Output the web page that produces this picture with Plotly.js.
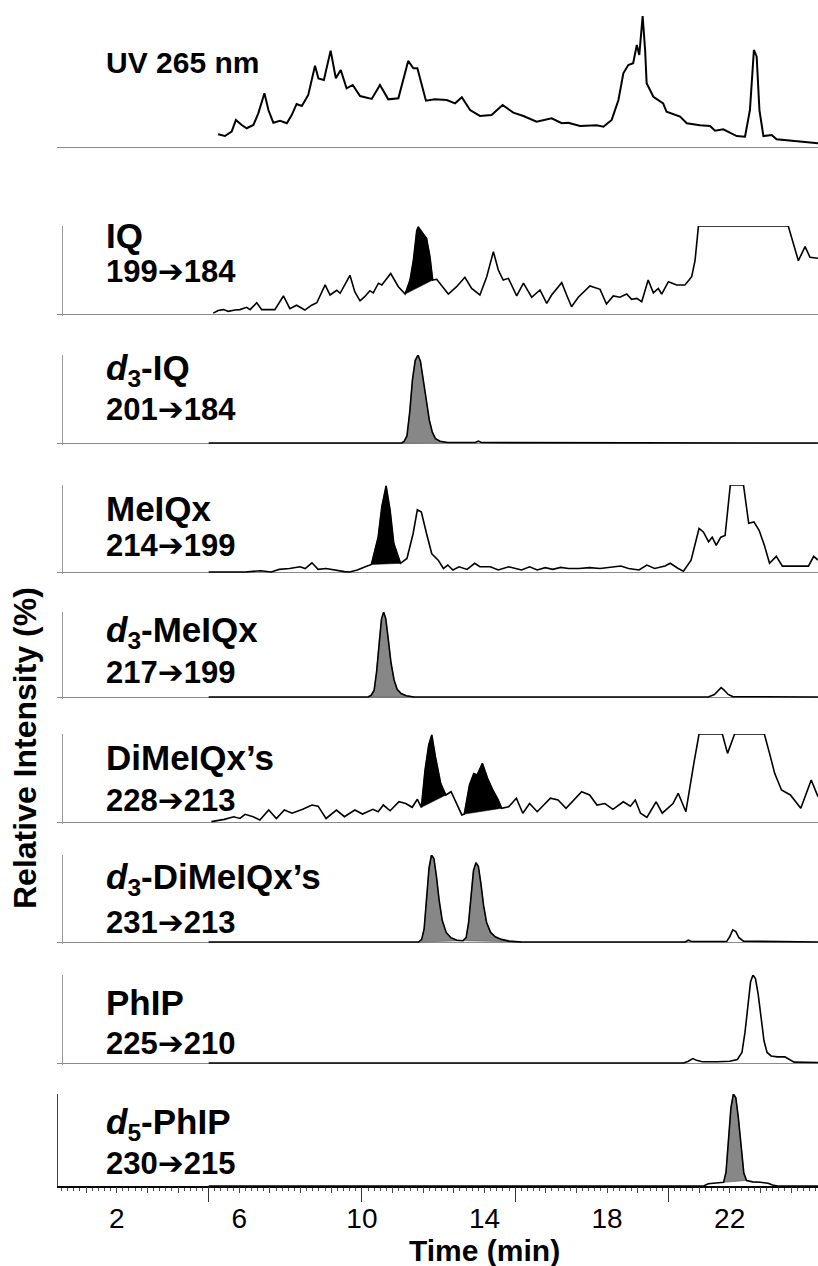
<!DOCTYPE html>
<html>
<head>
<meta charset="utf-8">
<script src="https://cdn.plot.ly/plotly-3.0.1.min.js"></script>
<style>
html,body{margin:0;padding:0;background:#fff;}
#chart{width:818px;height:1266px;}
</style>
</head>
<body>
<div id="chart"></div>
<script>
// ---------------- DATA (time in min, relative intensity in %) ----------------
const tickLabels = [2, 6, 10, 14, 18, 22];

const uvPoints = [[5.31,9.6],[5.53,8.3],[5.75,11.6],[5.89,20.5],[6.08,16.7],[6.24,14.2],[6.46,16.7],[6.62,25.5],[6.82,40.7],[6.95,28],[7.11,18.4],[7.33,19.9],[7.55,18],[7.71,24.2],[7.87,32.6],[8.04,31.1],[8.25,39.4],[8.47,61.6],[8.58,52],[8.76,50.8],[8.98,73],[9.15,52],[9.31,58.3],[9.5,44.5],[9.7,47],[9.94,38.6],[10.32,36.4],[10.59,47],[10.86,36.1],[11.19,36.9],[11.51,65.2],[11.68,59.6],[11.81,59.6],[12.09,35.1],[12.38,36.1],[12.77,35.6],[13.04,33.1],[13.26,37.7],[13.53,28],[13.85,23.5],[14.23,24.2],[14.59,31.8],[14.94,26],[15.27,23.5],[15.7,19.2],[16.19,21.7],[16.52,18],[16.73,18.4],[17.12,15.9],[17.66,16.4],[17.88,15.4],[18.15,20.5],[18.37,35.6],[18.53,55.8],[18.69,62.1],[18.85,63.4],[18.97,77.3],[19.05,69.7],[19.16,99.2],[19.24,73.5],[19.29,48.3],[19.51,38.1],[19.83,33.1],[19.94,26.7],[20.38,23],[20.6,18],[21.03,16.4],[21.36,15.9],[21.52,12.3],[21.79,13.4],[22.23,8.3],[22.5,7.8],[22.66,28],[22.79,73.5],[22.88,68.4],[22.97,28],[23.1,8.3],[23.37,9.1],[23.53,5.8],[24.08,4.8],[24.88,2.8]];

const iqPoints = [[5.15,1],[5.31,4],[5.48,5],[5.64,3],[5.86,4.5],[6.02,5],[6.24,7.6],[6.35,5],[6.57,12.8],[6.73,5],[7.16,5],[7.44,20.5],[7.65,6],[7.87,10],[8.14,4.5],[8.36,10],[8.53,12.8],[8.8,33],[8.96,21.6],[9.18,27],[9.29,23.5],[9.61,44],[9.77,25],[9.94,15],[10.1,20],[10.26,26.5],[10.37,24],[10.54,35],[10.65,33],[10.94,46],[11.19,31],[11.41,22.7],[11.57,38.6],[11.68,61],[11.79,95],[11.84,99],[11.96,93],[12.11,86],[12.22,65],[12.31,38.6],[12.44,39.4],[12.82,22.7],[13.09,31],[13.36,41.7],[13.58,29],[13.85,21.6],[14.07,42],[14.29,70.8],[14.45,50],[14.61,38.6],[14.78,40.5],[15.05,20.5],[15.27,35],[15.54,19],[15.81,27.3],[16.03,12],[16.19,21.6],[16.52,35.6],[16.68,21.6],[16.84,8.3],[17.06,19],[17.44,31.8],[17.77,28],[17.98,11.4],[18.2,20.5],[18.42,19],[18.64,22.7],[18.8,16.7],[18.97,17.8],[19.13,14],[19.34,38.6],[19.51,24],[19.67,29],[19.78,22.7],[20.0,36.7],[20.27,33],[20.54,33],[20.76,42.4],[20.87,61],[20.98,100],[23.91,100],[24.08,80],[24.24,60.6],[24.46,76.5],[24.62,64.4],[24.88,63.3]];

const d3iqPoints = [[5.0,0],[11.3,0],[11.38,2],[11.47,8],[11.56,35],[11.65,72],[11.74,94],[11.83,100],[11.91,93],[12.0,72],[12.1,48],[12.2,26],[12.3,12],[12.4,5],[12.55,2],[12.8,0.5],[13.7,0.5],[13.8,2],[13.9,0.5],[24.88,0]];

const meiqxPoints = [[5.0,0],[6.19,0],[6.7,1.5],[7.04,0],[7.3,3],[7.64,4],[7.98,6],[8.15,4],[8.37,10.6],[8.57,3],[8.83,4],[9.09,2.3],[9.43,0.4],[9.6,0],[9.85,2.3],[10.11,6],[10.31,8.7],[10.53,40],[10.65,75],[10.79,99],[10.92,71],[11.04,33],[11.26,10],[11.47,15.6],[11.67,44],[11.81,71.6],[11.94,69],[12.11,44],[12.28,21],[12.49,13.6],[12.66,4],[12.8,8],[12.97,2.3],[13.17,6],[13.43,3],[13.68,10],[13.85,6],[14.19,6],[14.45,2.3],[14.79,6],[15.21,2.3],[15.47,6],[15.72,2.3],[15.98,5],[16.23,3],[16.49,5.3],[16.74,4],[17.08,4],[17.43,5],[17.77,4],[18.1,5.3],[18.45,6.8],[18.7,4],[19.04,2.3],[19.3,8],[19.55,4],[19.89,6.8],[20.06,10],[20.32,4],[20.49,1],[20.74,13.6],[21.0,50],[21.14,46],[21.31,34.8],[21.43,40],[21.56,30.7],[21.71,40],[21.85,42],[22.02,100],[22.45,100],[22.62,56],[22.79,57.6],[22.96,48],[23.13,30.7],[23.3,10],[23.52,18],[23.72,6.8],[24.57,6.8],[24.74,18],[24.88,13.6]];

const d3meiqxPoints = [[5.0,0],[10.2,0],[10.3,2],[10.4,8],[10.48,30],[10.56,65],[10.64,92],[10.71,100],[10.78,92],[10.86,68],[10.95,40],[11.05,20],[11.15,9],[11.28,4],[11.45,1.5],[11.7,0],[21.3,0],[21.5,3],[21.62,8],[21.72,11],[21.82,8],[21.95,3],[22.1,0.5],[24.88,0]];

const dimeiqxPoints = [[5.09,0.4],[5.51,3],[5.82,6],[6.02,4],[6.19,8.7],[6.45,6],[6.67,2.3],[6.96,13.6],[7.21,4],[7.47,13.6],[7.72,10],[8.07,14.4],[8.37,19.3],[8.57,18],[8.83,4],[9.17,13.6],[9.43,6],[9.77,13.6],[10.02,9],[10.36,14.4],[10.53,11.7],[10.7,19.3],[10.92,12.8],[11.21,23],[11.43,21],[11.64,16.7],[11.81,25.8],[11.94,16.7],[12.06,59],[12.18,87.5],[12.28,99],[12.4,74],[12.57,44],[12.74,30.7],[12.91,34.4],[13.13,18],[13.26,8],[13.34,9],[13.51,42],[13.65,55],[13.76,53.4],[13.93,66.7],[14.1,49.7],[14.27,36.4],[14.45,25],[14.56,15.6],[14.79,17.4],[15.04,27],[15.25,10],[15.47,21],[15.72,11.7],[16.15,27],[16.4,25],[16.66,15.6],[17.17,34.4],[17.43,30.7],[17.67,19.3],[17.93,21],[18.19,14.4],[18.53,23],[18.76,18],[18.92,25],[19.09,10],[19.3,5.3],[19.6,23],[19.8,10],[20.15,21],[20.32,32.6],[20.57,11.7],[20.83,66.7],[21.0,100],[21.76,100],[21.93,78],[22.16,100],[23.13,100],[23.3,78],[23.47,55],[23.69,36.4],[23.98,30.7],[24.32,15.6],[24.66,47.7],[24.88,28.8]];

const d3dimeiqxPoints = [[5.0,0],[11.85,0],[11.95,3],[12.03,15],[12.11,50],[12.19,85],[12.27,100],[12.35,96],[12.43,76],[12.52,48],[12.62,25],[12.75,11],[12.9,5],[13.1,2],[13.3,1.5],[13.4,5],[13.48,22],[13.56,55],[13.64,82],[13.72,91],[13.8,87],[13.88,68],[13.97,42],[14.07,22],[14.2,11],[14.35,6],[14.55,3],[14.8,1],[15.2,0],[20.55,0],[20.65,2],[20.75,0.5],[21.9,0.5],[22.0,6],[22.1,14],[22.2,12],[22.3,5],[22.45,1],[24.88,0]];

const phipPoints = [[5.0,0],[20.5,0],[20.65,2],[20.8,5],[20.92,3],[21.1,1.5],[21.6,1.5],[22.0,2],[22.25,4],[22.4,12],[22.5,35],[22.6,70],[22.68,92],[22.76,100],[22.84,96],[22.93,78],[23.02,50],[23.12,25],[23.22,12],[23.35,8],[23.55,7],[23.8,7],[23.95,4],[24.1,1],[24.88,0.5]];

const d5phipPoints = [[5.0,0],[21.15,0],[21.3,2.5],[21.6,3],[21.8,4],[21.88,15],[21.96,50],[22.04,85],[22.12,100],[22.2,96],[22.28,75],[22.37,40],[22.46,14],[22.55,6],[22.75,4.5],[23.0,4],[23.25,3],[23.4,1],[23.55,0],[24.88,0]];

// filled peak windows (min)
const iqPeakWindows = [[11.41, 12.31]];
const d3iqPeakWindows = [[11.3, 12.8]];
const meiqxPeakWindows = [[10.31, 11.26]];
const d3meiqxPeakWindows = [[10.2, 11.7]];
const dimeiqxPeakWindows = [[11.94, 12.74], [13.34, 14.56]];
const d3dimeiqxPeakWindows = [[11.85, 13.3], [13.3, 15.2]];
const d5phipPeakWindows = [[21.8, 22.55]];

const compoundNames = ['UV 265 nm','IQ','<i>d</i><sub>3</sub>-IQ','MeIQx','<i>d</i><sub>3</sub>-MeIQx','DiMeIQx\u2019s','<i>d</i><sub>3</sub>-DiMeIQx\u2019s','PhIP','<i>d</i><sub>5</sub>-PhIP'];
const transitionFrom = [null, 199, 201, 214, 217, 228, 231, 225, 230];
const transitionTo = [null, 184, 184, 199, 199, 213, 213, 210, 215];

// ---------------- LAYOUT HELPERS ----------------
const W = 818, H = 1266, ML = 57, MB = 80, PH = H - MB;
const py = p => (PH - p) / PH;
const px = p => (p - ML) / (W - ML);
const xRange = [(ML - 55.4) / 30.65, (W - 55.4) / 30.65];
const FONT = 'Liberation Sans, Arial, Helvetica, sans-serif';
const BLACK_FILL = '#000000', GRAY_FILL = '#878787';
const ARROW = '<span style="font-family:DejaVu Sans">\u2794</span>';

const panels = [
  {pts: uvPoints, win: [], fill: null, B: 147, T: 15, r0: -3, lw: 2.0, vline: false, nameY: 63, transY: null, nameSize: 30},
  {pts: iqPoints, win: iqPeakWindows, fill: BLACK_FILL, B: 314, T: 226, r0: -2, lw: 1.6, vline: true, nameY: 236, transY: 271, nameSize: 35},
  {pts: d3iqPoints, win: d3iqPeakWindows, fill: GRAY_FILL, B: 443, T: 355, r0: -2, lw: 1.6, vline: true, nameY: 370, transY: 409, nameSize: 35},
  {pts: meiqxPoints, win: meiqxPeakWindows, fill: BLACK_FILL, B: 572, T: 485, r0: -2, lw: 1.6, vline: true, nameY: 508, transY: 545, nameSize: 35},
  {pts: d3meiqxPoints, win: d3meiqxPeakWindows, fill: GRAY_FILL, B: 697, T: 612, r0: -2, lw: 1.6, vline: true, nameY: 632, transY: 672, nameSize: 35},
  {pts: dimeiqxPoints, win: dimeiqxPeakWindows, fill: BLACK_FILL, B: 822, T: 734, r0: -2, lw: 1.6, vline: true, nameY: 757, transY: 800, nameSize: 35},
  {pts: d3dimeiqxPoints, win: d3dimeiqxPeakWindows, fill: GRAY_FILL, B: 942, T: 855, r0: -2, lw: 1.6, vline: true, nameY: 879, transY: 922, nameSize: 35},
  {pts: phipPoints, win: [], fill: null, B: 1063, T: 975, r0: -2, lw: 1.6, vline: true, nameY: 1002, transY: 1043, nameSize: 35},
  {pts: d5phipPoints, win: d5phipPeakWindows, fill: GRAY_FILL, B: 1186, T: 1094, r0: 0, lw: 1.6, vline: true, nameY: 1124, transY: 1163, nameSize: 35}
];

const traces = [];
const layout = {
  width: W, height: H,
  margin: {l: ML, r: 0, t: 0, b: MB, pad: 0},
  paper_bgcolor: '#fff', plot_bgcolor: 'rgba(0,0,0,0)',
  showlegend: false,
  font: {family: FONT, color: '#000'},
  annotations: []
};

panels.forEach((p, i) => {
  const yName = i === 0 ? 'y' : 'y' + (i + 1);
  const yKey = i === 0 ? 'yaxis' : 'yaxis' + (i + 1);
  const ppu = (p.B - p.T) / 100;
  const bottomPix = p.B - p.r0 * ppu;
  const last = i === panels.length - 1;
  layout[yKey] = {
    domain: [Math.max(0, py(bottomPix)), py(p.T)],
    range: [p.r0, 100],
    anchor: 'free',
    position: last ? 0 : px(62),
    showgrid: false, showticklabels: false, ticks: '',
    zeroline: !last, zerolinecolor: '#8a8a8a', zerolinewidth: 1,
    showline: p.vline, linecolor: last ? '#444' : '#9a9a9a', linewidth: 1,
    fixedrange: true
  };
  p.win.forEach(w => {
    const seg = p.pts.filter(q => q[0] >= w[0] - 1e-9 && q[0] <= w[1] + 1e-9);
    const xs = seg.map(q => q[0]); const ys = seg.map(q => q[1]);
    xs.push(xs[0]); ys.push(ys[0]);
    traces.push({x: xs, y: ys, xaxis: 'x', yaxis: yName, mode: 'lines', fill: 'toself',
      fillcolor: p.fill, line: {color: p.fill === BLACK_FILL ? '#000' : '#555', width: 0.6},
      hoverinfo: 'skip'});
  });
  traces.push({x: p.pts.map(q => q[0]), y: p.pts.map(q => q[1]), xaxis: 'x', yaxis: yName,
    mode: 'lines', line: {color: '#000', width: p.lw, shape: 'linear'}, hoverinfo: 'skip'});

  layout.annotations.push({xref: 'paper', yref: 'paper', x: px(104), y: py(p.nameY),
    xanchor: 'left', yanchor: 'middle', showarrow: false, text: '<b>' + compoundNames[i] + '</b>',
    font: {family: FONT, size: p.nameSize, color: '#000'}});
  if (p.transY !== null) {
    layout.annotations.push({xref: 'paper', yref: 'paper', x: px(104), y: py(p.transY),
      xanchor: 'left', yanchor: 'middle', showarrow: false,
      text: '<b>' + transitionFrom[i] + ARROW + transitionTo[i] + '</b>',
      font: {family: FONT, size: 31, color: '#000'}});
  }
});

// axes
layout.xaxis = {
  range: xRange, domain: [0, 1], anchor: 'free', position: 0,
  showline: true, linecolor: '#000', linewidth: 1.5,
  ticks: 'outside', tickmode: 'array', tickvals: tickLabels, ticktext: tickLabels.map(String),
  ticklen: 5, tickwidth: 1, tickcolor: '#333', ticklabelstandoff: 2,
  tickfont: {family: FONT, size: 28, color: '#000'},
  minor: {tickmode: 'linear', tick0: 0, dtick: 0.2, ticks: 'outside', ticklen: 3, tickcolor: '#555', tickwidth: 1, showgrid: false},
  showgrid: false, zeroline: false, fixedrange: true
};
layout.xaxis2 = {overlaying: 'x', range: xRange, anchor: 'free', position: 0, side: 'bottom',
  ticks: 'outside', tickmode: 'linear', tick0: 0, dtick: 1, ticklen: 6, tickcolor: '#444',
  showticklabels: false, showline: false, showgrid: false, zeroline: false, fixedrange: true};
layout.xaxis3 = {overlaying: 'x', range: xRange, anchor: 'free', position: 0, side: 'bottom',
  ticks: 'outside', tickmode: 'linear', tick0: 0, dtick: 5, ticklen: 15, tickcolor: '#333',
  showticklabels: false, showline: false, showgrid: false, zeroline: false, fixedrange: true};
traces.push({x: [1], y: [null], xaxis: 'x2', yaxis: 'y9', mode: 'lines', hoverinfo: 'skip'});
traces.push({x: [1], y: [null], xaxis: 'x3', yaxis: 'y9', mode: 'lines', hoverinfo: 'skip'});

layout.annotations.push({xref: 'paper', yref: 'paper', x: px(25), y: py(748), textangle: -90,
  xanchor: 'center', yanchor: 'middle', showarrow: false, text: '<b>Relative Intensity (%)</b>',
  font: {family: FONT, size: 32, color: '#000'}});
layout.annotations.push({xref: 'paper', yref: 'paper', x: px(484), y: py(1250),
  xanchor: 'center', yanchor: 'middle', showarrow: false, text: '<b>Time (min)</b>',
  font: {family: FONT, size: 30, color: '#000'}});

Plotly.newPlot('chart', traces, layout, {displayModeBar: false, staticPlot: true});
</script>
</body>
</html>
